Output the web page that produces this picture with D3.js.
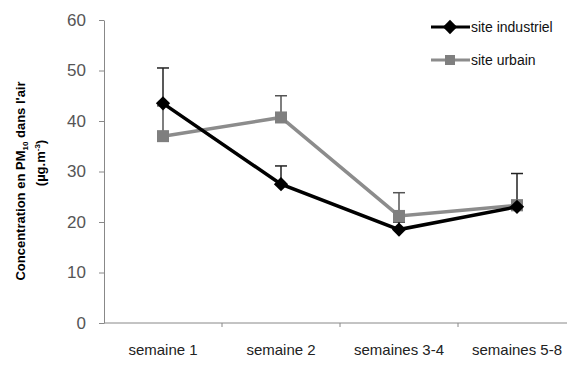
<!DOCTYPE html>
<html><head><meta charset="utf-8">
<script src="https://cdn.jsdelivr.net/npm/d3@7"></script>
<style>body{margin:0;background:#fff}svg{display:block}</style>
</head><body>
<svg id="c" width="578" height="365"></svg>
<script>
const categories = ["semaine 1", "semaine 2", "semaines 3-4", "semaines 5-8"];
const industriel = [43.5, 27.5, 18.5, 23.0];
const industrielErr = [7.0, 3.6, 1.5, 6.6];
const urbain = [37.0, 40.7, 21.2, 23.3];
const urbainErr = [6.0, 4.3, 4.6, 1.0];
const yTicks = [0, 10, 20, 30, 40, 50, 60];
const seriesNames = ["site industriel", "site urbain"];

const svg = d3.select("#c");
const x = d3.scaleBand().domain(categories).range([104, 576]);
const y = d3.scaleLinear().domain([0, 60]).range([323, 20]);

// Y axis
const ya = svg.append("g").attr("transform", "translate(104,0)")
  .call(d3.axisLeft(y).tickValues(yTicks).tickSize(5).tickSizeOuter(0).tickPadding(13));
ya.select(".domain").attr("stroke", "#888");
ya.selectAll(".tick line").attr("stroke", "#888");
ya.selectAll("text").attr("fill", "#555").style("font", "17px Arial, 'Liberation Sans', sans-serif");

// X axis
const xa = svg.append("g").attr("transform", "translate(0,323)")
  .call(d3.axisBottom(x).tickSize(0).tickPadding(21));
xa.select(".domain").remove();
xa.append("line").attr("x1", 104).attr("x2", 567).attr("y1", 0).attr("y2", 0).attr("stroke", "#888");
xa.selectAll(".bnd").data(categories.slice(1)).enter().append("line")
  .attr("x1", d => x(d)).attr("x2", d => x(d)).attr("y1", 0).attr("y2", 4).attr("stroke", "#888");
xa.selectAll("text").attr("fill", "#222").style("font", "15px Arial, 'Liberation Sans', sans-serif");

const cx = d => x(d) + x.bandwidth() / 2;

// error bars
function errBars(vals, errs, color) {
  const g = svg.append("g");
  categories.forEach((c, i) => {
    const top = y(vals[i] + errs[i]);
    g.append("line").attr("x1", cx(c)).attr("x2", cx(c)).attr("y1", y(vals[i])).attr("y2", top)
      .attr("stroke", color).attr("stroke-width", 1.5);
    g.append("line").attr("x1", cx(c) - 6).attr("x2", cx(c) + 6).attr("y1", top).attr("y2", top)
      .attr("stroke", color).attr("stroke-width", 1.5);
  });
}
errBars(urbain, urbainErr, "#555");
errBars(industriel, industrielErr, "#222");

const line = d3.line().x((d, i) => cx(categories[i])).y(d => y(d));

// urbain
svg.append("path").datum(urbain).attr("d", line).attr("fill", "none")
  .attr("stroke", "#8c8c8c").attr("stroke-width", 3.5);
svg.selectAll(".sq").data(urbain).enter().append("rect")
  .attr("x", (d, i) => cx(categories[i]) - 6).attr("y", d => y(d) - 6)
  .attr("width", 12).attr("height", 12).attr("fill", "#7f7f7f");

// industriel
svg.append("path").datum(industriel).attr("d", line).attr("fill", "none")
  .attr("stroke", "#000").attr("stroke-width", 3.5);
const diamond = d3.symbol().type(d3.symbolDiamond2).size(130);
svg.selectAll(".dm").data(industriel).enter().append("path")
  .attr("d", diamond).attr("transform", (d, i) => `translate(${cx(categories[i])},${y(d)})`)
  .attr("fill", "#000");

// legend
const lg = svg.append("g");
const lfont = "14px Arial, 'Liberation Sans', sans-serif";
lg.append("line").attr("x1", 431).attr("x2", 470).attr("y1", 27).attr("y2", 27).attr("stroke", "#000").attr("stroke-width", 3);
lg.append("path").attr("d", diamond).attr("transform", "translate(450,27)").attr("fill", "#000");
lg.append("text").attr("x", 471).attr("y", 32).text(seriesNames[0]).style("font", lfont).attr("fill", "#111");
lg.append("line").attr("x1", 431).attr("x2", 470).attr("y1", 60).attr("y2", 60).attr("stroke", "#8c8c8c").attr("stroke-width", 3);
lg.append("rect").attr("x", 445).attr("y", 55).attr("width", 10).attr("height", 10).attr("fill", "#7f7f7f");
lg.append("text").attr("x", 471).attr("y", 65).text(seriesNames[1]).style("font", lfont).attr("fill", "#111");

// y title
const tfont = "bold 13px Arial, 'Liberation Sans', sans-serif";
const t1 = svg.append("text").attr("transform", "translate(25,181) rotate(-90)").attr("text-anchor", "middle")
  .style("font", tfont).attr("fill", "#000");
t1.append("tspan").text("Concentration en PM");
t1.append("tspan").text("10").attr("dy", 3).style("font-size", "8px");
t1.append("tspan").text(" dans l'air").attr("dy", -3);
const t2 = svg.append("text").attr("transform", "translate(45,163) rotate(-90)").attr("text-anchor", "middle")
  .style("font", tfont).attr("fill", "#000");
t2.append("tspan").text("(µg.m");
t2.append("tspan").text("-3").attr("dy", -5).style("font-size", "8px");
t2.append("tspan").text(")").attr("dy", 5);
</script>
</body></html>
